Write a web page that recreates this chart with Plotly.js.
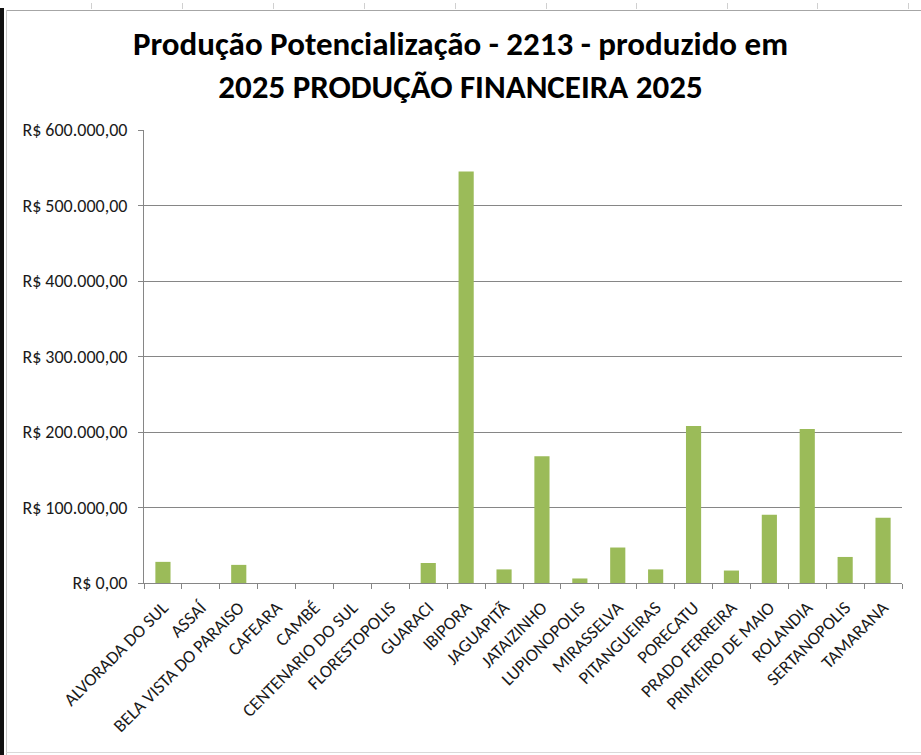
<!DOCTYPE html>
<html>
<head>
<meta charset="utf-8">
<script src="https://cdn.plot.ly/plotly-3.0.1.min.js"></script>
<style>
  html, body { margin: 0; padding: 0; background: #ffffff; }
  #wrap { position: relative; width: 921px; height: 755px; overflow: hidden; }
  #chart { position: absolute; left: 0; top: 0; width: 921px; height: 755px; }
  .deco { position: absolute; pointer-events: none; }
</style>
</head>
<body>
<div id="wrap">
  <div id="chart"></div>
  <div class="deco" style="left:0;top:8px;width:4px;height:747px;background:#111;"></div>
  <div class="deco" style="left:6px;top:10px;width:915px;height:1px;background:#a6a6a6;"></div>
  <div class="deco" style="left:6px;top:10px;width:1px;height:745px;background:#c8c8c8;"></div>
  <div class="deco" style="left:6px;top:752px;width:915px;height:1px;background:#d9d9d9;"></div>
  <div class="deco" style="left:91px;top:3px;width:1px;height:6px;background:#d0d0d0;"></div>
  <div class="deco" style="left:182px;top:3px;width:1px;height:6px;background:#d0d0d0;"></div>
  <div class="deco" style="left:273px;top:3px;width:1px;height:6px;background:#d0d0d0;"></div>
  <div class="deco" style="left:364px;top:3px;width:1px;height:6px;background:#d0d0d0;"></div>
  <div class="deco" style="left:455px;top:3px;width:1px;height:6px;background:#d0d0d0;"></div>
  <div class="deco" style="left:546px;top:3px;width:1px;height:6px;background:#d0d0d0;"></div>
  <div class="deco" style="left:636px;top:3px;width:1px;height:6px;background:#d0d0d0;"></div>
  <div class="deco" style="left:727px;top:3px;width:1px;height:6px;background:#d0d0d0;"></div>
  <div class="deco" style="left:817px;top:3px;width:1px;height:6px;background:#d0d0d0;"></div>
  <div class="deco" style="left:908px;top:3px;width:1px;height:6px;background:#d0d0d0;"></div>
</div>
<script>
const municipios = [
  "ALVORADA DO SUL", "ASSAÍ", "BELA VISTA DO PARAISO", "CAFEARA", "CAMBÉ",
  "CENTENARIO DO SUL", "FLORESTOPOLIS", "GUARACI", "IBIPORA", "JAGUAPITÃ",
  "JATAIZINHO", "LUPIONOPOLIS", "MIRASSELVA", "PITANGUEIRAS", "PORECATU",
  "PRADO FERREIRA", "PRIMEIRO DE MAIO", "ROLANDIA", "SERTANOPOLIS", "TAMARANA"
];
const producao = [
  28000, 0, 24000, 0, 0,
  0, 0, 26500, 545000, 18000,
  168000, 6000, 47000, 18000, 208000,
  16500, 90500, 204000, 34500, 86500
];
const yTickVals = [0, 100000, 200000, 300000, 400000, 500000, 600000];
const yTickText = ["R$ 0,00", "R$ 100.000,00", "R$ 200.000,00", "R$ 300.000,00",
                   "R$ 400.000,00", "R$ 500.000,00", "R$ 600.000,00"];
const titulo = "Produção Potencialização - 2213 - produzido em<br>2025 PRODUÇÃO FINANCEIRA 2025";

const FONT = "Carlito, Lato, 'Open Sans', sans-serif";

const trace = {
  type: "bar",
  x: municipios,
  y: producao,
  marker: { color: "#9bbb59", line: { width: 0 } },
  hoverinfo: "x+y"
};

const layout = {
  width: 921,
  height: 755,
  autosize: false,
  margin: { l: 144, r: 19, t: 130, b: 172, pad: 0 },
  paper_bgcolor: "rgba(0,0,0,0)",
  plot_bgcolor: "#ffffff",
  bargap: 0.6,
  showlegend: false,
  font: { family: FONT, color: "#1a1a1a", size: 15 },
  title: {
    text: titulo,
    font: { family: FONT, size: 33, color: "#000000", weight: "bold" },
    x: 0.5, xref: "container", xanchor: "center",
    y: 1 - 55 / 755, yref: "container", yanchor: "middle"
  },
  xaxis: {
    type: "category",
    tickangle: -45,
    ticks: "outside",
    tickson: "boundaries",
    ticklen: 5,
    tickcolor: "#868686",
    showline: true,
    linecolor: "#868686",
    linewidth: 1,
    showgrid: false,
    ticklabelstandoff: 6,
    tickfont: { family: FONT, size: 18, color: "#1a1a1a" },
    automargin: false
  },
  yaxis: {
    range: [0, 600000],
    tickvals: yTickVals,
    ticktext: yTickText,
    ticks: "outside",
    ticklen: 5,
    tickcolor: "#868686",
    showline: true,
    linecolor: "#868686",
    linewidth: 1,
    showgrid: true,
    gridcolor: "#868686",
    gridwidth: 1,
    zeroline: false,
    ticklabelstandoff: 7,
    tickfont: { family: FONT, size: 18, color: "#1a1a1a" },
    automargin: false
  }
};

Plotly.newPlot("chart", [trace], layout, { displayModeBar: false, staticPlot: true });
</script>
</body>
</html>
